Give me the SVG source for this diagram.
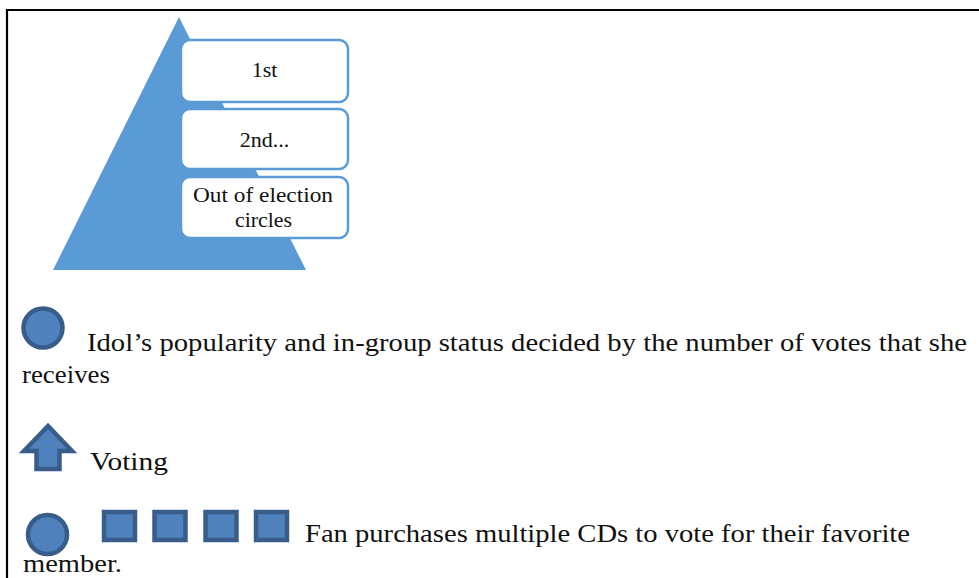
<svg xmlns="http://www.w3.org/2000/svg" width="979" height="578" viewBox="0 0 979 578">
<style>
.t{font-family:"Liberation Serif","Times New Roman",serif;fill:#111;}
.m{font-size:25px;}
.b{font-size:22px;}
.box{fill:#fff;stroke:#5b9bd5;stroke-width:2.5;}
.ic{fill:#4f81bd;stroke:#385d8a;stroke-width:4.5;}
</style>
<rect x="0" y="0" width="979" height="578" fill="#fff"/>
<g id="frame"><path d="M7 578 V10 H979" fill="none" stroke="#000" stroke-width="2.2"/></g>
<g id="pyramid"><polygon points="179,17 53,270 306,270" fill="#5b9bd5"/></g>
<g id="box1"><rect class="box" x="181" y="40" width="167" height="62" rx="9"/><text class="t b" x="264.5" y="77" text-anchor="middle">1st</text></g>
<g id="box2"><rect class="box" x="181" y="109" width="167" height="60" rx="9"/><text class="t b" x="264.5" y="147" text-anchor="middle">2nd...</text></g>
<g id="box3"><rect class="box" x="181" y="177" width="167" height="61" rx="9"/><text class="t b" x="193" y="202" textLength="140" lengthAdjust="spacingAndGlyphs">Out of election</text><text class="t b" x="235" y="227" textLength="57" lengthAdjust="spacingAndGlyphs">circles</text></g>
<g id="legend-idol"><circle class="ic" cx="43" cy="328" r="19.5"/><text class="t m" x="87" y="351" textLength="880" lengthAdjust="spacingAndGlyphs">Idol’s popularity and in-group status decided by the number of votes that she</text><text class="t m" x="22" y="383" textLength="88" lengthAdjust="spacingAndGlyphs">receives</text></g>
<g id="legend-voting"><polygon class="ic" points="48,426 24,451 36.5,451 36.5,469 59.5,469 59.5,451 72,451" stroke-linejoin="miter"/><text class="t m" x="90" y="470" textLength="78" lengthAdjust="spacingAndGlyphs">Voting</text></g>
<g id="legend-fan"><circle class="ic" cx="47.5" cy="534.5" r="19.5"/>
<rect class="ic" x="104" y="512" width="31" height="28"/>
<rect class="ic" x="154.5" y="512" width="31" height="28"/>
<rect class="ic" x="205.5" y="512" width="31" height="28"/>
<rect class="ic" x="256" y="512" width="31" height="28"/>
<text class="t m" x="305" y="542" textLength="605" lengthAdjust="spacingAndGlyphs">Fan purchases multiple CDs to vote for their favorite</text>
<text class="t m" x="23" y="572" textLength="99" lengthAdjust="spacingAndGlyphs">member.</text></g>
</svg>
